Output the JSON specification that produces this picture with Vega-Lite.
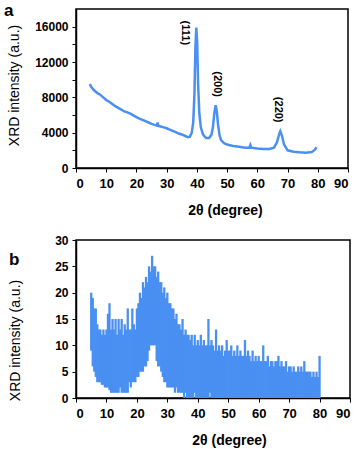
{
  "$schema": "https://vega.github.io/schema/vega-lite/v6.json",
  "padding": {"left": 3, "top": 1, "right": 5, "bottom": 2},
  "spacing": 15,
  "config": {
    "view": {"stroke": "#000", "strokeWidth": 1.5},
    "font": "Liberation Sans",
    "axis": {
      "grid": false,
      "domainColor": "#000",
      "domainWidth": 1.5,
      "tickColor": "#000",
      "tickSize": 4,
      "tickWidth": 1,
      "labelColor": "#000",
      "labelFont": "Liberation Sans",
      "labelFontWeight": "bold",
      "labelOverlap": false,
      "labelBound": false,
      "titleColor": "#000",
      "titleFont": "Liberation Sans"
    },
    "title": {"font": "Liberation Sans", "fontWeight": "bold", "fontSize": 17, "color": "#000"}
  },
  "datasets": {
    "xrd": [
      {"t": 4.6, "v": 9500}, {"t": 5, "v": 9200}, {"t": 6, "v": 8800}, {"t": 7, "v": 8500},
      {"t": 8, "v": 8300}, {"t": 9, "v": 8000}, {"t": 10, "v": 7700}, {"t": 11, "v": 7500},
      {"t": 12, "v": 7250}, {"t": 13, "v": 7000}, {"t": 14, "v": 6800}, {"t": 15, "v": 6600},
      {"t": 16, "v": 6400}, {"t": 17, "v": 6300}, {"t": 18, "v": 6150}, {"t": 19, "v": 5950},
      {"t": 20, "v": 5770}, {"t": 21, "v": 5600}, {"t": 22, "v": 5450}, {"t": 23, "v": 5300},
      {"t": 24, "v": 5150}, {"t": 25, "v": 5000}, {"t": 26, "v": 4880}, {"t": 26.8, "v": 4800},
      {"t": 27, "v": 5150}, {"t": 27.2, "v": 4780}, {"t": 28, "v": 4700}, {"t": 29, "v": 4600},
      {"t": 30, "v": 4500}, {"t": 31, "v": 4350}, {"t": 32, "v": 4200}, {"t": 33, "v": 4050},
      {"t": 34, "v": 3900}, {"t": 35, "v": 3800}, {"t": 36, "v": 3650}, {"t": 37, "v": 3500},
      {"t": 37.7, "v": 3550}, {"t": 38.3, "v": 4000}, {"t": 38.8, "v": 5200}, {"t": 39.2, "v": 8500},
      {"t": 39.5, "v": 13500}, {"t": 39.8, "v": 15900}, {"t": 40.1, "v": 14200}, {"t": 40.4, "v": 9500},
      {"t": 40.8, "v": 6200}, {"t": 41.3, "v": 4600}, {"t": 42, "v": 3800}, {"t": 43, "v": 3400},
      {"t": 44, "v": 3400}, {"t": 44.8, "v": 3750}, {"t": 45.3, "v": 4600}, {"t": 45.8, "v": 6300},
      {"t": 46.2, "v": 7100}, {"t": 46.6, "v": 6400}, {"t": 47, "v": 4900}, {"t": 47.5, "v": 3700},
      {"t": 48, "v": 3150}, {"t": 49, "v": 2800}, {"t": 50, "v": 2650}, {"t": 52, "v": 2500},
      {"t": 54, "v": 2400}, {"t": 56, "v": 2300}, {"t": 57.4, "v": 2320}, {"t": 57.7, "v": 2600},
      {"t": 58, "v": 2300}, {"t": 60, "v": 2200}, {"t": 62, "v": 2150}, {"t": 64, "v": 2150},
      {"t": 65.5, "v": 2300}, {"t": 66.5, "v": 2900}, {"t": 67.2, "v": 3800}, {"t": 67.6, "v": 4150},
      {"t": 68.1, "v": 3700}, {"t": 68.8, "v": 2700}, {"t": 70, "v": 2000}, {"t": 72, "v": 1850},
      {"t": 74, "v": 1780}, {"t": 76, "v": 1730}, {"t": 78, "v": 1800}, {"t": 79, "v": 2050},
      {"t": 79.6, "v": 2350}
    ],
    "peaks": [
      {"label": "(111)", "t": 36, "v": 15300},
      {"label": "(200)", "t": 46.5, "v": 9500},
      {"label": "(220)", "t": 67, "v": 6600}
    ],
    "noisy": [
      {"t": 5, "hi": 20, "lo": 9}, {"t": 5.5, "hi": 19, "lo": 6}, {"t": 6, "hi": 17, "lo": 5},
      {"t": 6.5, "hi": 17, "lo": 4}, {"t": 7, "hi": 14, "lo": 3}, {"t": 7.5, "hi": 13, "lo": 3},
      {"t": 8, "hi": 13, "lo": 3}, {"t": 8.5, "hi": 12, "lo": 2.5}, {"t": 9, "hi": 13, "lo": 2.5},
      {"t": 9.5, "hi": 12, "lo": 2}, {"t": 10, "hi": 13, "lo": 2}, {"t": 10.5, "hi": 16, "lo": 2},
      {"t": 11, "hi": 18, "lo": 1.5}, {"t": 11.5, "hi": 13, "lo": 1}, {"t": 12, "hi": 15, "lo": 1},
      {"t": 12.5, "hi": 13, "lo": 1}, {"t": 13, "hi": 15, "lo": 1}, {"t": 13.5, "hi": 12, "lo": 1},
      {"t": 14, "hi": 15, "lo": 1}, {"t": 14.5, "hi": 13, "lo": 2}, {"t": 15, "hi": 15, "lo": 1},
      {"t": 15.5, "hi": 12, "lo": 1}, {"t": 16, "hi": 14, "lo": 1}, {"t": 16.5, "hi": 13, "lo": 1},
      {"t": 17, "hi": 17, "lo": 1}, {"t": 17.5, "hi": 13, "lo": 3}, {"t": 18, "hi": 13, "lo": 2},
      {"t": 18.5, "hi": 17, "lo": 3}, {"t": 19, "hi": 14, "lo": 3}, {"t": 19.5, "hi": 13, "lo": 3},
      {"t": 20, "hi": 17, "lo": 4}, {"t": 20.5, "hi": 18, "lo": 4}, {"t": 21, "hi": 20, "lo": 5},
      {"t": 21.5, "hi": 19, "lo": 5}, {"t": 22, "hi": 22, "lo": 5}, {"t": 22.5, "hi": 21, "lo": 6},
      {"t": 23, "hi": 23, "lo": 6}, {"t": 23.5, "hi": 22, "lo": 7}, {"t": 24, "hi": 25, "lo": 9},
      {"t": 24.5, "hi": 24, "lo": 10}, {"t": 25, "hi": 27, "lo": 10}, {"t": 25.5, "hi": 25, "lo": 10},
      {"t": 26, "hi": 25, "lo": 10}, {"t": 26.5, "hi": 23, "lo": 7}, {"t": 27, "hi": 24, "lo": 6},
      {"t": 27.5, "hi": 22, "lo": 6}, {"t": 28, "hi": 22, "lo": 5}, {"t": 28.5, "hi": 20, "lo": 4},
      {"t": 29, "hi": 21, "lo": 3}, {"t": 29.5, "hi": 19, "lo": 3}, {"t": 30, "hi": 20, "lo": 2},
      {"t": 30.5, "hi": 18, "lo": 2}, {"t": 31, "hi": 18, "lo": 2}, {"t": 31.5, "hi": 17, "lo": 2},
      {"t": 32, "hi": 17, "lo": 2}, {"t": 32.5, "hi": 15, "lo": 1}, {"t": 33, "hi": 16, "lo": 2},
      {"t": 33.5, "hi": 14, "lo": 1}, {"t": 34, "hi": 14, "lo": 1}, {"t": 34.5, "hi": 13, "lo": 1},
      {"t": 35, "hi": 15, "lo": 1}, {"t": 35.5, "hi": 12, "lo": 0}, {"t": 36, "hi": 13, "lo": 1},
      {"t": 36.5, "hi": 12, "lo": 0}, {"t": 37, "hi": 12, "lo": 0}, {"t": 37.5, "hi": 11, "lo": 0},
      {"t": 38, "hi": 12, "lo": 0}, {"t": 38.5, "hi": 10, "lo": 0}, {"t": 39, "hi": 12, "lo": 1},
      {"t": 39.5, "hi": 10, "lo": 0}, {"t": 40, "hi": 11, "lo": 0}, {"t": 40.5, "hi": 10, "lo": 0},
      {"t": 41, "hi": 12, "lo": 0}, {"t": 41.5, "hi": 10, "lo": 0}, {"t": 42, "hi": 11, "lo": 0},
      {"t": 42.5, "hi": 10, "lo": 0}, {"t": 43, "hi": 10, "lo": 0}, {"t": 43.5, "hi": 15, "lo": 0},
      {"t": 44, "hi": 10, "lo": 1}, {"t": 44.5, "hi": 11, "lo": 0}, {"t": 45, "hi": 10, "lo": 0},
      {"t": 45.5, "hi": 9, "lo": 0}, {"t": 46, "hi": 13, "lo": 0}, {"t": 46.5, "hi": 9, "lo": 0},
      {"t": 47, "hi": 10, "lo": 0}, {"t": 47.5, "hi": 9, "lo": 0}, {"t": 48, "hi": 10, "lo": 0},
      {"t": 48.5, "hi": 8, "lo": 0}, {"t": 49, "hi": 9, "lo": 0}, {"t": 49.5, "hi": 11, "lo": 0},
      {"t": 50, "hi": 9, "lo": 0}, {"t": 50.5, "hi": 9, "lo": 0}, {"t": 51, "hi": 10, "lo": 0},
      {"t": 51.5, "hi": 8, "lo": 0}, {"t": 52, "hi": 9, "lo": 0}, {"t": 52.5, "hi": 8, "lo": 0},
      {"t": 53, "hi": 10, "lo": 0}, {"t": 53.5, "hi": 8, "lo": 0}, {"t": 54, "hi": 9, "lo": 0},
      {"t": 54.5, "hi": 8, "lo": 0}, {"t": 55, "hi": 8, "lo": 0}, {"t": 55.5, "hi": 11, "lo": 0},
      {"t": 56, "hi": 8, "lo": 0}, {"t": 56.5, "hi": 9, "lo": 0}, {"t": 57, "hi": 8, "lo": 0},
      {"t": 57.5, "hi": 7, "lo": 0}, {"t": 58, "hi": 9, "lo": 0}, {"t": 58.5, "hi": 7, "lo": 0},
      {"t": 59, "hi": 8, "lo": 0}, {"t": 59.5, "hi": 7, "lo": 0}, {"t": 60, "hi": 8, "lo": 0},
      {"t": 60.5, "hi": 7, "lo": 0}, {"t": 61, "hi": 7, "lo": 0}, {"t": 61.5, "hi": 10, "lo": 0},
      {"t": 62, "hi": 7, "lo": 0}, {"t": 62.5, "hi": 7, "lo": 0}, {"t": 63, "hi": 8, "lo": 0},
      {"t": 63.5, "hi": 6, "lo": 0}, {"t": 64, "hi": 7, "lo": 0}, {"t": 64.5, "hi": 7, "lo": 0},
      {"t": 65, "hi": 6, "lo": 0}, {"t": 65.5, "hi": 7, "lo": 0}, {"t": 66, "hi": 7, "lo": 0},
      {"t": 66.5, "hi": 8, "lo": 0}, {"t": 67, "hi": 6, "lo": 0}, {"t": 67.5, "hi": 7, "lo": 0},
      {"t": 68, "hi": 6, "lo": 0}, {"t": 68.5, "hi": 6, "lo": 0}, {"t": 69, "hi": 7, "lo": 0},
      {"t": 69.5, "hi": 5, "lo": 0}, {"t": 70, "hi": 6, "lo": 0}, {"t": 70.5, "hi": 6, "lo": 0},
      {"t": 71, "hi": 5, "lo": 0}, {"t": 71.5, "hi": 6, "lo": 0}, {"t": 72, "hi": 5, "lo": 0},
      {"t": 72.5, "hi": 5, "lo": 0}, {"t": 73, "hi": 6, "lo": 0}, {"t": 73.5, "hi": 5, "lo": 0},
      {"t": 74, "hi": 6, "lo": 0}, {"t": 74.5, "hi": 5, "lo": 0}, {"t": 75, "hi": 7, "lo": 0},
      {"t": 75.5, "hi": 5, "lo": 0}, {"t": 76, "hi": 5, "lo": 0}, {"t": 76.5, "hi": 5, "lo": 0},
      {"t": 77, "hi": 5, "lo": 0}, {"t": 77.5, "hi": 4, "lo": 0}, {"t": 78, "hi": 5, "lo": 0},
      {"t": 78.5, "hi": 4, "lo": 0}, {"t": 79, "hi": 5, "lo": 0}, {"t": 79.5, "hi": 4, "lo": 0},
      {"t": 80, "hi": 8, "lo": 0}
    ]
  },
  "vconcat": [
    {
      "width": 272,
      "height": 159,
      "title": {"text": "a", "anchor": "start", "frame": "group", "dx": -72, "offset": -11},
      "encoding": {
        "x": {"field": "t", "type": "quantitative",
              "scale": {"domain": [0, 90], "nice": false},
              "axis": {"values": [0,10,20,30,40,50,60,70,80,90], "labelFontSize": 13, "labelPadding": 5, "labelOverlap": false,
                       "title": "2θ (degree)", "titleFontSize": 14, "titleFontWeight": "bold", "titlePadding": 13, "titleX": 149}},
        "y": {"field": "v", "type": "quantitative",
              "scale": {"domain": [0, 18000], "nice": false},
              "axis": {"values": [0,2000,4000,6000,8000,10000,12000,14000,16000], "format": "d",
                       "labelExpr": "datum.value % 4000 == 0 ? datum.label : ''",
                       "labelOverlap": false,
                       "labelFontSize": 12, "labelPadding": 4,
                       "title": "XRD intensity (a.u.)", "titleFontSize": 14, "titleFontWeight": "normal", "titlePadding": 13, "titleY": 76}}
      },
      "layer": [
        {
          "data": {"name": "xrd"},
          "mark": {"type": "line", "color": "#4a90f0", "strokeWidth": 2.5}
        },
        {
          "data": {"name": "peaks"},
          "mark": {"type": "text", "angle": 90, "fontSize": 11, "fontWeight": "bold", "font": "Liberation Sans", "color": "#000"},
          "encoding": {
            "text": {"field": "label"}
          }
        }
      ]
    },
    {
      "width": 274,
      "height": 158,
      "title": {"text": "b", "anchor": "start", "frame": "group", "dx": -67, "offset": -35},
      "data": {"name": "noisy"},
      "mark": {"type": "rule", "color": "#4a8ff2", "strokeWidth": 2.3},
      "encoding": {
        "x": {"field": "t", "type": "quantitative",
              "scale": {"domain": [0, 90], "nice": false},
              "axis": {"values": [0,10,20,30,40,50,60,70,80,90], "labelFontSize": 13, "labelPadding": 5, "labelOverlap": false,
                       "title": "2θ (degree)", "titleFontSize": 14, "titleFontWeight": "bold", "titlePadding": 13, "titleX": 153}},
        "y": {"field": "hi", "type": "quantitative",
              "scale": {"domain": [0, 30], "nice": false},
              "axis": {"values": [0,5,10,15,20,25,30], "labelFontSize": 12, "labelPadding": 4, "labelOverlap": false,
                       "title": "XRD intensity (a.u.)", "titleFontSize": 14, "titleFontWeight": "normal", "titlePadding": 32, "titleY": 100}},
        "y2": {"field": "lo"}
      }
    }
  ]
}
